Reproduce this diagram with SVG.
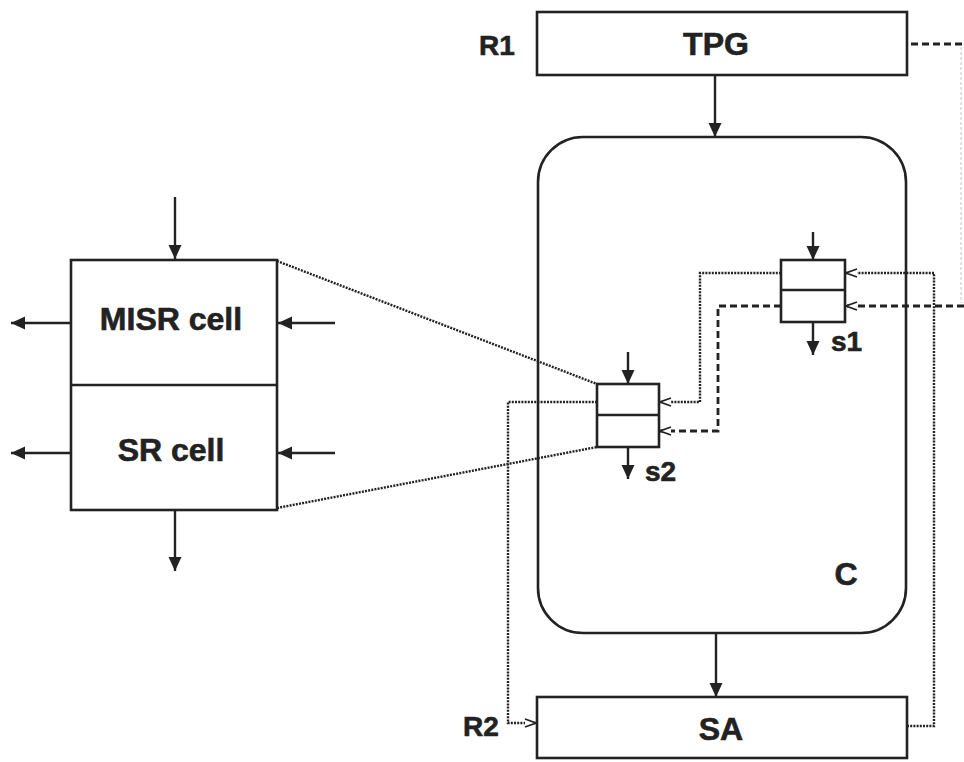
<svg xmlns="http://www.w3.org/2000/svg" width="964" height="762" viewBox="0 0 964 762">
<style>
.box{fill:#fff;stroke:#222;stroke-width:2.6}
.ln{fill:none;stroke:#222;stroke-width:2.4}
.dot{fill:none;stroke:#222;stroke-width:2.4;stroke-dasharray:2 1.2}
.dash{fill:none;stroke:#222;stroke-width:2.8;stroke-dasharray:7 4}
.faint{fill:none;stroke:#dcdcdc;stroke-width:1.5;stroke-dasharray:3 2}
.t{font-family:"Liberation Sans",Arial,sans-serif;font-weight:bold;fill:#222;stroke:#222;stroke-width:0.6}
.big{font-size:32px}
.sm{font-size:28px}
</style>
<defs>
<marker id="af" markerUnits="userSpaceOnUse" markerWidth="14" markerHeight="14" refX="14" refY="6.5" orient="auto">
<path d="M0,0 L14,6.5 L0,13 z" fill="#222"/>
</marker>
<marker id="ao" markerUnits="userSpaceOnUse" markerWidth="14" markerHeight="12" refX="12" refY="5" orient="auto">
<path d="M1,1 L12,5 L1,9" fill="#fff" stroke="#222" stroke-width="1.8"/>
</marker>
</defs>
<rect width="964" height="762" fill="#fff"/>
<g id="connectors">
<line class="ln" x1="715" y1="75" x2="715" y2="137" marker-end="url(#af)"/>
<line class="ln" x1="716" y1="633" x2="716" y2="697" marker-end="url(#af)"/>
<line class="ln" x1="813" y1="232" x2="813" y2="260" marker-end="url(#af)"/>
<line class="ln" x1="813" y1="322" x2="813" y2="355" marker-end="url(#af)"/>
<line class="ln" x1="628" y1="352" x2="628" y2="384" marker-end="url(#af)"/>
<line class="ln" x1="628" y1="447" x2="628" y2="479" marker-end="url(#af)"/>
<line class="ln" x1="175" y1="197" x2="175" y2="259" marker-end="url(#af)"/>
<line class="ln" x1="175" y1="510" x2="175" y2="571" marker-end="url(#af)"/>
<line class="ln" x1="71" y1="323" x2="11" y2="323" marker-end="url(#af)"/>
<line class="ln" x1="335" y1="323" x2="278" y2="323" marker-end="url(#af)"/>
<line class="ln" x1="71" y1="453" x2="11" y2="453" marker-end="url(#af)"/>
<line class="ln" x1="335" y1="453" x2="278" y2="453" marker-end="url(#af)"/>
<line class="dot" x1="277" y1="261" x2="597" y2="384"/>
<line class="dot" x1="277" y1="508" x2="597" y2="447"/>
<polyline class="dot" points="907,726 934,726 934,273 846,273" marker-end="url(#ao)"/>
<polyline class="dot" points="781,273 700,273 700,402 660,402" marker-end="url(#ao)"/>
<polyline class="dot" points="597,402 508,402 508,723 536,723" marker-end="url(#ao)"/>
<line class="dash" x1="911" y1="44" x2="964" y2="44"/>
<line class="faint" x1="961" y1="47" x2="961" y2="303"/>
<polyline class="dash" points="964,306 846,306" marker-end="url(#ao)"/>
<polyline class="dash" points="781,306 718,306 718,431 660,431" marker-end="url(#ao)"/>
</g>
<g id="TPG">
<rect class="box" x="537" y="12" width="370" height="63"/>
<text class="t big" x="716" y="55" text-anchor="middle">TPG</text>
<text class="t sm" x="479" y="55">R1</text>
</g>
<g id="C">
<rect class="box" x="538" y="137" width="368" height="496" rx="45" ry="45" style="fill:none"/>
<text class="t big" x="846" y="585" text-anchor="middle">C</text>
</g>
<g id="s1">
<rect class="box" x="781" y="260" width="64" height="62"/>
<line class="ln" x1="781" y1="290" x2="845" y2="290"/>
<text class="t sm" x="831" y="351">s1</text>
</g>
<g id="s2">
<rect class="box" x="597" y="384" width="62" height="63"/>
<line class="ln" x1="597" y1="415" x2="659" y2="415"/>
<text class="t sm" x="645" y="481">s2</text>
</g>
<g id="SA">
<rect class="box" x="537" y="697" width="370" height="61"/>
<text class="t big" x="721" y="740" text-anchor="middle">SA</text>
<text class="t sm" x="463" y="736">R2</text>
</g>
<g id="cell">
<rect class="box" x="71" y="260" width="206" height="250"/>
<line class="ln" x1="71" y1="385" x2="277" y2="385"/>
<text class="t big" x="171" y="330" text-anchor="middle">MISR cell</text>
<text class="t big" x="171" y="461" text-anchor="middle">SR cell</text>
</g>
</svg>
